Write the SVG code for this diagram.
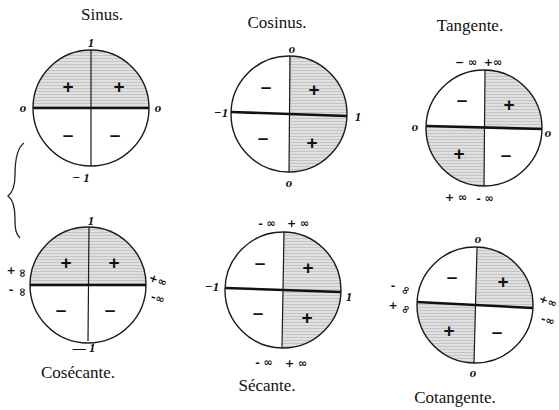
<svg xmlns="http://www.w3.org/2000/svg" width="559" height="410" viewBox="0 0 559 410">
<defs>
<pattern id="hatch" width="6" height="3" patternUnits="userSpaceOnUse">
<rect width="6" height="3" fill="#e0e0e0"/>
<line x1="0" y1="1.5" x2="6" y2="1.5" stroke="#bdbdbd" stroke-width="0.8"/>
</pattern>
</defs>
<style>
.bg{fill:#ffffff}
.shade{fill:url(#hatch)}
.circ{fill:none;stroke:#1a1a1a;stroke-width:1.4}
.hax{stroke:#111;stroke-width:2.6}
.vax{stroke:#1a1a1a;stroke-width:1.2}
.title{font-family:"Liberation Serif",serif;font-size:17px;fill:#111;text-anchor:middle}
.lab{font-family:"Liberation Serif",serif;font-style:italic;font-weight:bold;font-size:13px;fill:#111;text-anchor:middle}
.sign{font-family:"Liberation Sans",sans-serif;font-weight:bold;font-size:19px;fill:#111;text-anchor:middle}
.inf{font-family:"DejaVu Sans",sans-serif;font-weight:bold;font-size:11px;fill:#111;text-anchor:middle}
.brace{fill:none;stroke:#222;stroke-width:1.3}
</style>
<rect class="bg" width="559" height="410"/>

<g id="sinus">
<path class="shade" d="M33,108 A58,58 0 0 1 149,108 Z"/>
<circle class="circ" cx="91" cy="108" r="58"/>
<line class="hax" x1="33" y1="108" x2="149" y2="108"/>
<line class="vax" x1="91" y1="50" x2="91" y2="166"/>
<text class="title" x="102" y="20">Sinus.</text>
<text class="lab" x="91" y="47">1</text>
<text class="lab" x="23" y="112">o</text>
<text class="lab" x="158" y="112">o</text>
<text class="lab" x="81" y="182">− 1</text>
<text class="sign" x="68" y="93">+</text>
<text class="sign" x="119" y="93">+</text>
<text class="sign" x="68" y="141">–</text>
<text class="sign" x="115" y="141">–</text>
</g>

<g id="cosinus">
<path class="shade" d="M289,56 A58,58 0 0 1 289,172 Z"/>
<circle class="circ" cx="289" cy="114" r="58"/>
<line class="hax" x1="231" y1="112" x2="347" y2="116"/>
<line class="vax" x1="290" y1="56" x2="289" y2="172"/>
<text class="title" x="277" y="28">Cosinus.</text>
<text class="lab" x="292" y="53">o</text>
<text class="lab" x="221" y="117">−1</text>
<text class="lab" x="358" y="121">1</text>
<text class="lab" x="289" y="187">o</text>
<text class="sign" x="266" y="93">–</text>
<text class="sign" x="314" y="96">+</text>
<text class="sign" x="263" y="144">–</text>
<text class="sign" x="312" y="149">+</text>
</g>

<g id="tangente">
<path class="shade" d="M485,128 L485,70 A58,58 0 0 1 542,128 Z"/>
<path class="shade" d="M485,128 L484,186 A58,58 0 0 1 426,127 Z"/>
<circle class="circ" cx="484" cy="128" r="58"/>
<line class="hax" x1="426" y1="126" x2="542" y2="129"/>
<line class="vax" x1="485" y1="70" x2="484" y2="186"/>
<text class="title" x="470" y="31">Tangente.</text>
<text class="inf" x="466" y="66">− ∞</text>
<text class="inf" x="493" y="66">+∞</text>
<text class="lab" x="415" y="131">o</text>
<text class="lab" x="548" y="137">o</text>
<text class="inf" x="456" y="201">+ ∞</text>
<text class="inf" x="485" y="202">- ∞</text>
<text class="sign" x="462" y="106">–</text>
<text class="sign" x="509" y="111">+</text>
<text class="sign" x="459" y="160">+</text>
<text class="sign" x="506" y="161">–</text>
</g>

<g id="cosecante">
<path class="shade" d="M30,285 A58,58 0 0 1 146,285 Z"/>
<circle class="circ" cx="88" cy="285" r="58"/>
<line class="hax" x1="30" y1="285" x2="146" y2="285"/>
<line class="vax" x1="89" y1="227" x2="88" y2="341"/>
<text class="title" x="78" y="378">Cosécante.</text>
<text class="lab" x="91" y="225">1</text>
<text class="inf" x="11" y="274">+</text>
<text class="inf" transform="translate(23,273) rotate(90)" y="4">∞</text>
<text class="inf" x="11" y="293">-</text>
<text class="inf" transform="translate(23,292) rotate(90)" y="4">∞</text>
<text class="inf" transform="translate(158,280) rotate(20)" y="4">+∞</text>
<text class="inf" transform="translate(158,298) rotate(15)" y="4">-∞</text>
<text class="lab" x="84" y="352">— 1</text>
<text class="sign" x="66" y="269">+</text>
<text class="sign" x="114" y="269">+</text>
<text class="sign" x="61" y="316">–</text>
<text class="sign" x="110" y="316">–</text>
</g>

<g id="secante">
<path class="shade" d="M283,232 A58,58 0 0 1 283,348 Z"/>
<circle class="circ" cx="283" cy="290" r="58"/>
<line class="hax" x1="225" y1="288" x2="341" y2="292"/>
<line class="vax" x1="284" y1="232" x2="282" y2="348"/>
<text class="title" x="267" y="391">Sécante.</text>
<text class="inf" x="267" y="227">- ∞</text>
<text class="inf" x="298" y="227">+ ∞</text>
<text class="lab" x="212" y="291">−1</text>
<text class="lab" x="349" y="301">1</text>
<text class="inf" x="264" y="366">- ∞</text>
<text class="inf" x="296" y="367">+ ∞</text>
<text class="sign" x="260" y="269">–</text>
<text class="sign" x="308" y="274">+</text>
<text class="sign" x="258" y="319">–</text>
<text class="sign" x="307" y="324">+</text>
</g>

<g id="cotangente">
<path class="shade" d="M476,305 L477,247 A58,58 0 0 1 533,307 Z"/>
<path class="shade" d="M476,305 L474,363 A58,58 0 0 1 417,303 Z"/>
<circle class="circ" cx="475" cy="305" r="58"/>
<line class="hax" x1="417" y1="302" x2="533" y2="308"/>
<line class="vax" x1="477" y1="247" x2="474" y2="363"/>
<text class="title" x="455" y="403">Cotangente.</text>
<text class="lab" x="478" y="243">o</text>
<text class="lab" x="473" y="377">o</text>
<text class="inf" x="393" y="289">-</text>
<text class="inf" transform="translate(405,290) rotate(-60)" y="4">∞</text>
<text class="inf" x="393" y="309">+</text>
<text class="inf" transform="translate(405,309) rotate(-60)" y="4">∞</text>
<text class="inf" transform="translate(548,301) rotate(20)" y="4">+∞</text>
<text class="inf" transform="translate(548,320) rotate(15)" y="4">-∞</text>
<text class="sign" x="452" y="283">–</text>
<text class="sign" x="503" y="288">+</text>
<text class="sign" x="449" y="337">+</text>
<text class="sign" x="497" y="338">–</text>
</g>

<g id="connectors">
<path class="brace" d="M24,143 C17,148 15,160 15,175 C15,187 12,193 8,196 C12,199 15,205 15,218 C15,230 16,234 20,238"/>
</g>
</svg>
